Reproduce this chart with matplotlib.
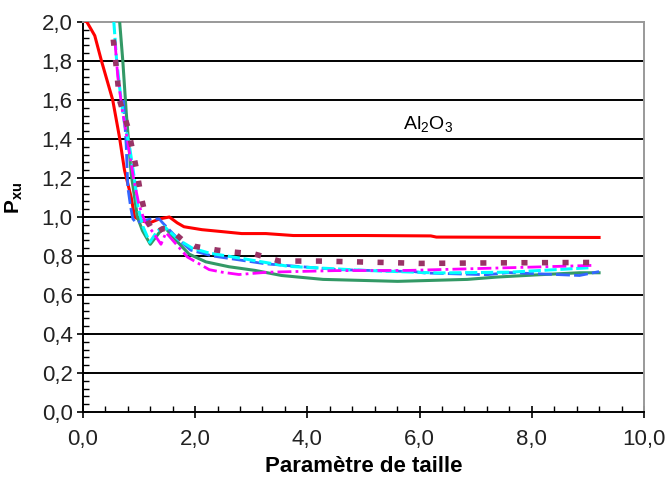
#PURPOSE: Size parameter curves for Al2O3 (P_xu vs parametre de taille)

import numpy as np
import matplotlib.pyplot as plt
from matplotlib.ticker import MultipleLocator, FuncFormatter

plt.rcParams['font.family'] = ['Liberation Sans', 'DejaVu Sans']
plt.rcParams['mathtext.fontset'] = 'custom'
plt.rcParams['mathtext.rm'] = 'Liberation Sans'
plt.rcParams['mathtext.bf'] = 'Liberation Sans:bold'

# data
red_x = [0.0, 0.07, 0.21, 0.33, 0.53, 0.65, 0.74, 0.86, 0.92, 1.05, 1.19, 1.36, 1.54, 1.68,
         1.8, 2.12, 2.48, 2.83, 3.26, 3.75, 5.0, 6.2, 6.3, 9.2]
red_y = [2.01, 2.0, 1.93, 1.8, 1.6, 1.41, 1.24, 1.1, 1.0, 0.98, 0.97, 0.99, 1.0, 0.97,
         0.95, 0.935, 0.925, 0.915, 0.915, 0.905, 0.905, 0.903, 0.897, 0.895]

green_x = [0.64, 0.71, 0.77, 0.82, 0.86, 0.92, 0.97, 1.06, 1.2, 1.36, 1.45, 1.66, 1.89,
           2.19, 2.6, 3.07, 3.54, 4.28, 5.61, 6.85, 7.38, 8.14, 8.85, 9.2]
green_y = [2.05, 1.8, 1.54, 1.36, 1.22, 1.1, 1.0, 0.93, 0.86, 0.92, 0.95, 0.88, 0.81,
           0.77, 0.745, 0.726, 0.70, 0.68, 0.67, 0.68, 0.692, 0.704, 0.714, 0.714]

blue_x = [0.72, 0.77, 0.80, 0.85, 0.89, 0.95, 1.04, 1.22, 1.36, 1.42, 1.72, 1.92, 2.31,
          2.78, 3.25, 4.55, 5.9, 6.08, 7.2, 7.6, 8.85, 9.2]
blue_y = [1.6, 1.37, 1.15, 1.05, 0.99, 0.97, 0.98, 0.99, 0.99, 0.97, 0.88, 0.83, 0.80,
          0.78, 0.76, 0.73, 0.72, 0.713, 0.704, 0.715, 0.70, 0.72]

cyan_x = [0.55, 0.6, 0.68, 0.74, 0.83, 0.92, 0.98, 1.07, 1.19, 1.33, 1.45, 1.72, 1.95,
          2.25, 2.78, 3.66, 5.02, 6.32, 7.61, 9.05]
cyan_y = [2.0, 1.8, 1.6, 1.48, 1.36, 1.19, 1.05, 0.95, 0.87, 0.93, 0.95, 0.88, 0.84,
          0.815, 0.79, 0.747, 0.726, 0.713, 0.717, 0.74]

magenta_x = [0.57, 0.62, 0.7, 0.8, 0.9, 1.0, 1.1, 1.25, 1.39, 1.48, 1.86, 2.07, 2.25,
             2.48, 2.78, 3.3, 4.5, 5.79, 8.0, 9.1]
magenta_y = [1.9, 1.72, 1.55, 1.38, 1.2, 1.06, 0.98, 0.92, 0.86, 0.92, 0.795, 0.76, 0.73,
             0.717, 0.705, 0.717, 0.725, 0.726, 0.743, 0.752]

purple_x = [0.54, 0.6, 0.65, 0.8, 0.95, 1.04, 1.13, 1.27, 1.42, 1.54, 1.78, 1.98, 2.39,
            2.69, 3.06, 3.5, 4.2, 5.5, 6.0, 7.5, 9.2]
purple_y = [1.91, 1.75, 1.6, 1.46, 1.25, 1.1, 0.99, 0.914, 0.94, 0.94, 0.88, 0.85, 0.83,
            0.82, 0.81, 0.774, 0.774, 0.766, 0.762, 0.765, 0.767]

fig = plt.figure(figsize=(6.66, 4.9), dpi=100)
ax = fig.add_axes([0.1246, 0.1592, 0.8423, 0.7959])

# horizontal grid lines in black
for g in np.arange(0.2, 2.0, 0.2):
    ax.axhline(g, color='black', lw=1.4, zorder=1)

ax.plot(red_x, red_y, color='#ff0000', lw=2.2, zorder=3)
ax.plot(green_x, green_y, color='#339966', lw=2.2, zorder=3)
ax.plot(blue_x, blue_y, color='#3366ff', lw=2.0, dashes=(5, 1.5), zorder=4)
ax.plot(cyan_x, cyan_y, color='#00ffff', lw=2.2, dashes=(4, 1.2), zorder=4)
ax.plot(magenta_x, magenta_y, color='#ff00ff', lw=2.0, dashes=(5, 1.5, 1, 1.5), zorder=4)
ax.plot(purple_x, purple_y, color='#993366', lw=4.0, dashes=(1.1, 2.6), zorder=5)

ax.set_xlim(0, 10)
ax.set_ylim(0, 2)
ax.xaxis.set_major_locator(MultipleLocator(2))
ax.xaxis.set_minor_locator(MultipleLocator(0.4))
ax.yaxis.set_major_locator(MultipleLocator(0.2))
ax.yaxis.set_minor_locator(MultipleLocator(0.04))

comma = FuncFormatter(lambda v, p: f'{v:.1f}'.replace('.', ','))
ax.xaxis.set_major_formatter(comma)
ax.yaxis.set_major_formatter(comma)

ax.tick_params(which='major', direction='inout', length=9, width=1.2, color='black',
               labelsize=16, labelcolor='#222222')
ax.tick_params(axis='y', which='major', pad=3)
ax.tick_params(axis='x', which='major', pad=8)
ax.tick_params(which='minor', direction='in', length=4, width=1.0, color='black')

ax.spines['left'].set_color('black')
ax.spines['bottom'].set_color('black')
ax.spines['left'].set_linewidth(1.4)
ax.spines['bottom'].set_linewidth(1.4)
ax.spines['top'].set_color('#999999')
ax.spines['right'].set_color('#999999')
ax.spines['top'].set_linewidth(1.4)
ax.spines['right'].set_linewidth(1.4)

ax.text(6.15, 1.447, r'Al$_2$O$_3$', fontsize=14, ha='center', va='baseline')

ax.set_xlabel('Paramètre de taille', fontsize=16, fontweight='bold')
ax.xaxis.set_label_coords(0.5, -0.112)
ax.set_ylabel(r'$\mathbf{P_{xu}}$', fontsize=15)
ax.yaxis.set_label_coords(-0.103, 0.55)

fig.savefig('out.png', dpi=100)
